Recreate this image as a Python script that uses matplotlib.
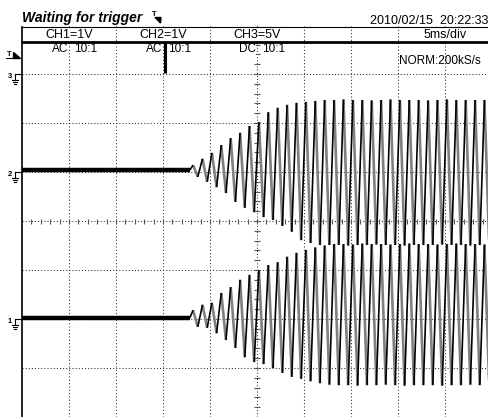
import numpy as np
import matplotlib
matplotlib.use("Agg")
import matplotlib.pyplot as plt
from matplotlib.collections import LineCollection
from matplotlib.patches import Polygon

# ---------------- data ----------------
title_text = "Waiting for trigger"
timestamp_text = "2010/02/15  20:22:33"
acq_text = "NORM:200kS/s"
scale_labels = ["CH1=1V", "CH2=1V", "CH3=5V", "5ms/div"]
scale_label_div = [1, 3, 5, 9]
coupling_labels = ["AC", "AC", "DC"]
probe_labels = ["10:1", "10:1", "10:1"]
coupling_div = [1, 3, 5]

ms_per_div = 5.0
onset_ms = 17.85

peak_times_ms = [18.2, 19.2, 20.2, 21.2, 22.2, 23.2, 24.2, 25.2, 26.2, 27.2,
                 28.2, 29.2, 30.2, 31.2, 32.2, 33.2, 34.2, 35.2, 36.2, 37.2,
                 38.2, 39.2, 40.2, 41.2, 42.2, 43.2, 44.2, 45.2, 46.2, 47.2,
                 48.2, 49.2]
trough_times_ms = [18.7, 19.7, 20.7, 21.7, 22.7, 23.7, 24.7, 25.7, 26.7, 27.7,
                   28.7, 29.7, 30.7, 31.7, 32.7, 33.7, 34.7, 35.7, 36.7, 37.7,
                   38.7, 39.7, 40.7, 41.7, 42.7, 43.7, 44.7, 45.7, 46.7, 47.7,
                   48.7, 49.7]

# CH1 (1 V/div), volts relative to its ground marker
ch1_flat_v = 0.02
ch1_peaks_v = [0.18, 0.29, 0.33, 0.53, 0.65, 0.80, 0.90, 1.00, 1.10, 1.16,
               1.27, 1.35, 1.41, 1.46, 1.50, 1.53, 1.53, 1.52, 1.54, 1.53,
               1.53, 1.52, 1.53, 1.54, 1.53, 1.53, 1.52, 1.53, 1.54, 1.53,
               1.53, 1.52]
ch1_troughs_v = [-0.16, -0.18, -0.29, -0.43, -0.59, -0.78, -0.88, -0.92, -1.00, -1.10,
                 -1.18, -1.22, -1.27, -1.31, -1.34, -1.35, -1.35, -1.36, -1.35, -1.35,
                 -1.34, -1.35, -1.36, -1.35, -1.35, -1.35, -1.36, -1.35, -1.35, -1.34,
                 -1.35, -1.35]

# CH2 (1 V/div), volts relative to its ground marker
ch2_flat_v = 0.04
ch2_peaks_v = [0.14, 0.27, 0.39, 0.55, 0.69, 0.80, 0.94, 1.02, 1.22, 1.31,
               1.37, 1.41, 1.43, 1.45, 1.47, 1.47, 1.48, 1.47, 1.47, 1.46,
               1.47, 1.48, 1.47, 1.47, 1.47, 1.46, 1.47, 1.48, 1.47, 1.47,
               1.47, 1.47]
ch2_troughs_v = [-0.10, -0.20, -0.31, -0.43, -0.61, -0.73, -0.82, -0.92, -0.98, -1.10,
                 -1.22, -1.39, -1.45, -1.49, -1.49, -1.49, -1.50, -1.49, -1.49, -1.48,
                 -1.49, -1.49, -1.50, -1.49, -1.49, -1.49, -1.48, -1.49, -1.49, -1.50,
                 -1.49, -1.49]

# ground marker positions (divisions from screen centre)
ch1_ground_div = -2.0
ch2_ground_div = 1.0
ch3_ground_div = 3.0

# ---------------- layout ----------------
W, H = 489, 417
plt.rcParams["font.family"] = ["Liberation Sans", "DejaVu Sans"]
fig = plt.figure(figsize=(W / 100, H / 100), dpi=100, facecolor="white")

gx0, gx1 = 22, 492      # graticule left / right (px)
gy0, gy1 = 25, 417      # graticule top / bottom (px)
px_per_div_x = (gx1 - gx0) / 10
px_per_div_y = (gy1 - gy0) / 8

ax = fig.add_axes([gx0 / W, 1 - gy1 / H, (gx1 - gx0) / W, (gy1 - gy0) / H])
ax.set_xlim(0, 10 * ms_per_div)
ax.set_ylim(-4, 4)
ax.axis("off")

grid_c = "#2e2e2e"
for i in range(1, 10):
    if i == 5:
        continue
    ax.plot([i * ms_per_div] * 2, [-4, 4], color=grid_c, lw=0.75,
            dashes=(1, 2.2), zorder=1)
for j in range(-3, 4):
    if j == 0:
        continue
    ax.plot([0, 50], [j, j], color=grid_c, lw=0.75, dashes=(1, 2), zorder=1)

# centre lines with minor ticks
ax.plot([25, 25], [-4, 4], color=grid_c, lw=0.75, dashes=(1, 2), zorder=1)
ax.plot([0, 50], [0, 0], color=grid_c, lw=0.75, dashes=(1, 2), zorder=1)
tick_h = 2.5 / px_per_div_y
tick_w = 2.5 / px_per_div_x * ms_per_div
segs = [[(t, -tick_h), (t, tick_h)] for t in np.arange(1, 50, 1.0)]
segs += [[(25 - tick_w, y), (25 + tick_w, y)] for y in np.arange(-3.8, 4.0, 0.2)]
ax.add_collection(LineCollection(segs, colors="#555555", linewidths=0.8, zorder=1))


def draw_trace(offset, flat, peaks, troughs):
    ax.plot([0, onset_ms], [offset + flat] * 2, color="black", lw=3.2,
            solid_capstyle="butt", zorder=3)
    pts = [(onset_ms, offset + flat)]
    for tp, p, tt, q in zip(peak_times_ms, peaks, trough_times_ms, troughs):
        pts.append((tp, offset + p))
        pts.append((tt, offset + q))
    rising, falling = [], []
    for a, b in zip(pts[:-1], pts[1:]):
        (rising if b[1] > a[1] else falling).append([a, b])
    ax.add_collection(LineCollection(falling, colors="#808080", linewidths=1.9, zorder=3))
    ax.add_collection(LineCollection(rising, colors="black", linewidths=1.2, zorder=4))


draw_trace(ch2_ground_div, ch2_flat_v, ch2_peaks_v, ch2_troughs_v)
draw_trace(ch1_ground_div, ch1_flat_v, ch1_peaks_v, ch1_troughs_v)

# ---------------- overlay (header, markers) in pixel coordinates ----------------
ov = fig.add_axes([0, 0, 1, 1], facecolor="none")
ov.set_xlim(0, W)
ov.set_ylim(H, 0)
ov.axis("off")


def div_x(d):
    return gx0 + d * px_per_div_x


def div_y(d):
    return (gy0 + gy1) / 2 - d * px_per_div_y


wb = dict(facecolor="white", edgecolor="none", pad=0.3)
for lab, d in zip(scale_labels, scale_label_div):
    ov.text(div_x(d), 35, lab, ha="center", va="center", fontsize=9, bbox=wb, zorder=3)
for c, p, d in zip(coupling_labels, probe_labels, coupling_div):
    ov.text(div_x(d) - 1, 48.5, c, ha="right", va="center", fontsize=8.5, bbox=wb, zorder=3)
    ov.text(div_x(d) + 5, 48.5, p, ha="left", va="center", fontsize=8.5, bbox=wb, zorder=3)

ov.plot([gx0, W], [27, 27], color="black", lw=0.8, zorder=6)
ov.plot([gx0, W], [42, 42], color="black", lw=2.0, zorder=6)
ov.plot([gx0, gx0], [27, H], color="black", lw=1.2, zorder=6)
ov.plot([div_x(3) + 1.5] * 2, [42, 73], color="black", lw=2.2,
        solid_capstyle="butt", zorder=6)

ov.text(gx0, 22, title_text, ha="left", va="baseline", fontsize=10,
        fontweight="bold", fontstyle="italic")
ov.text(488, 24, timestamp_text, ha="right", va="baseline", fontsize=9)
ov.text(481, 64, acq_text, ha="right", va="baseline", fontsize=8.5)

# trigger symbol after title
ov.text(154.5, 14, "T", ha="center", va="center", fontsize=5.5, fontweight="bold")
ov.add_patch(Polygon([(155, 17.5), (161, 17.5), (160.5, 23)], closed=True, color="black"))

# trigger level marker at left
ov.text(9, 54.5, "T", ha="center", va="center", fontsize=5.5, fontweight="bold")
ov.plot([6, 12.5], [58, 58], color="black", lw=0.8)
ov.add_patch(Polygon([(13, 51.5), (13, 58), (20, 58)], closed=True, color="black"))


def ground_marker(label, y):
    ov.text(10, y + 2.5, label, ha="center", va="center", fontsize=5.5, fontweight="bold")
    lw = 0.8
    ov.plot([15, 20.5], [y, y], color="black", lw=lw)
    ov.plot([15, 15], [y, y + 6], color="black", lw=lw)
    ov.plot([12, 18], [y + 6, y + 6], color="black", lw=lw)
    ov.plot([13, 17], [y + 8, y + 8], color="black", lw=lw)
    ov.plot([14, 16], [y + 10, y + 10], color="black", lw=lw)


ground_marker("3", div_y(ch3_ground_div))
ground_marker("2", div_y(ch2_ground_div))
ground_marker("1", div_y(ch1_ground_div))

fig.savefig("out.png", dpi=100, facecolor="white")
